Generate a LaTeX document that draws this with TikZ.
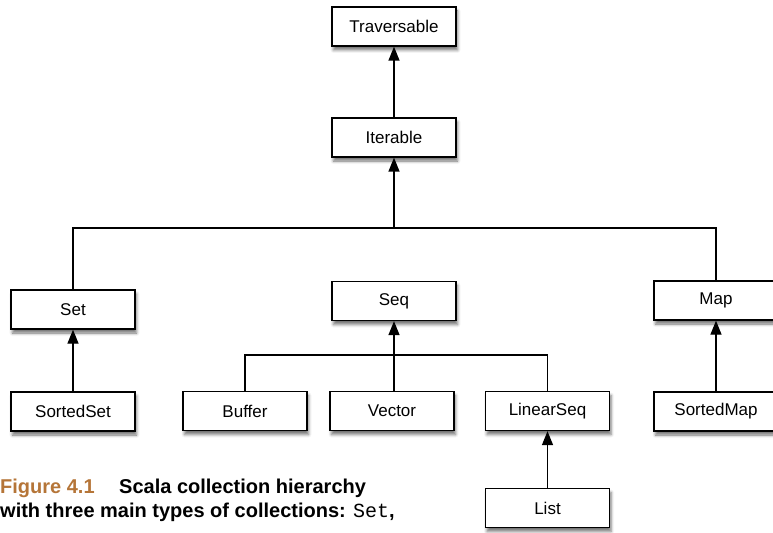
\documentclass[tikz,border=0pt]{standalone}
\usepackage{fontspec}
\setmainfont{Liberation Sans}
\newfontfamily\capmono{Liberation Mono}
\usetikzlibrary{arrows.meta,shadows.blur}
\definecolor{figbrown}{RGB}{181,117,56}
\begin{document}
\begin{tikzpicture}[x=1bp,y=-1bp,
 cls/.style={draw=black, line width=1.3bp, fill=white, minimum width=124bp, minimum height=39bp, inner sep=0pt,
   font=\fontsize{17bp}{20bp}\selectfont,
   blur shadow={shadow xshift=1.5bp, shadow yshift=-4bp, shadow blur radius=3bp, shadow opacity=55}},
 link/.style={line width=1.3bp},
 inh/.style={link, -{Triangle[length=14bp,width=11bp]}},
 captext/.style={font=\fontsize{20bp}{24bp}\selectfont\bfseries, inner sep=0pt, anchor=base west}]
\useasboundingbox (0,0) rectangle (773,533);
% classes
\node[cls] (trav) at (394,26.5) {Traversable};
\node[cls] (iter) at (394,137.5) {Iterable};
\node[cls] (set) at (73,309.5) {Set};
\node[cls] (seq) at (394,301) {Seq};
\node[cls] (map) at (716,300.5) {Map};
\node[cls] (sset) at (73,411.5) {SortedSet};
\node[cls] (buf) at (245,411) {Buffer};
\node[cls] (vec) at (392,411) {Vector};
\node[cls] (lseq) at (547.5,411) {LinearSeq};
\node[cls] (smap) at (716,411.5) {SortedMap};
\node[cls] (list) at (547.5,508) {List};
% junctions
\coordinate (j1) at (394,228);
\coordinate (j2) at (394,355);
% connectors
\draw[inh] (iter) -- (trav);
\draw[link] (set.north) |- (j1) -| (map.north);
\draw[inh] (j1) -- (iter.south);
\draw[link] (buf.north) |- (j2) -| (lseq.north);
\draw[inh] (vec.north -| seq.south) -- (seq.south);
\draw[inh] (sset) -- (set);
\draw[inh] (smap) -- (map);
\draw[inh] (list) -- (lseq);
% caption
\node[captext, text=figbrown] (fig) at (0,493) {Figure 4.1};
\node[captext] (title) at (119,493) {Scala collection hierarchy};
\node[captext] (cap2) at (0,517) {with three main types of collections: {\capmono\mdseries Set},};
\end{tikzpicture}
\end{document}
